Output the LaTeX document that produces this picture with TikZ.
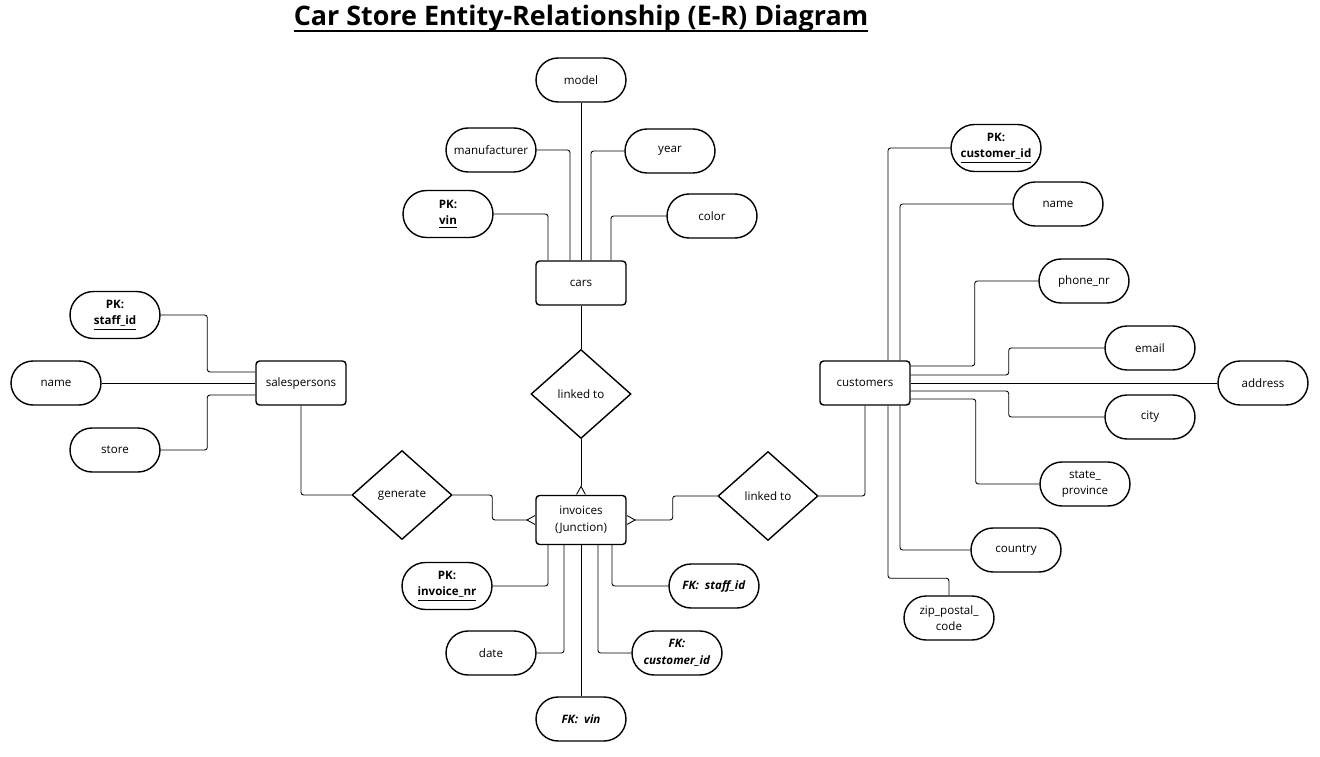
\documentclass[tikz,border=0pt]{standalone}
\usepackage{fontspec}
\setmainfont{Open Sans}
\usetikzlibrary{calc,shapes.geometric,arrows.meta}

\tikzset{
  txt/.style={font=\fontsize{6.6}{9.5}\selectfont},
  attr/.style={draw, line width=0.8pt, rounded corners=0.44cm, minimum width=1.8cm,
    minimum height=0.88cm, align=center, inner sep=1pt, txt},
  keyattr/.style={attr, minimum height=0.94cm, rounded corners=0.47cm},
  entity/.style={draw, line width=0.8pt, rounded corners=2pt, minimum width=1.8cm,
    minimum height=0.88cm, align=center, txt},
  relation/.style={draw, diamond, line width=0.8pt, minimum width=2cm,
    minimum height=1.78cm, inner sep=0pt, txt},
  link/.style={line width=0.5pt, rounded corners=1.5pt},
  many/.style={-{Straight Barb[reversed,length=4.5pt,width=5pt,sep=0pt]}}
}

\newcommand{\pk}[1]{\textbf{PK:}\\\textbf{\underline{#1}}}
\newcommand{\titleul}[1]{\sbox0{#1}\rlap{\rule[-3.6pt]{\wd0}{1.2pt}}\usebox0}

\begin{document}
\begin{tikzpicture}[x=0.02cm,y=-0.02cm]
\useasboundingbox (0,0) rectangle (1320,757);

% title
\node[font=\bfseries\fontsize{15.3}{18}\selectfont] (title) at (581,19)
  {\titleul{Car Store Entity-Relationship (E-R) Diagram}};

% entities
\node[entity] (cars) at (581,283) {cars};
\node[entity] (sales) at (301,383) {salespersons};
\node[entity] (cust) at (865,383) {customers};
\node[entity, minimum height=0.98cm] (inv) at (581,520) {invoices\\(Junction)};

% relationships
\node[relation] (rel1) at (581,394) {linked to};
\node[relation] (gen) at (402,495) {generate};
\node[relation] (rel2) at (768,496) {linked to};

% cars attributes
\node[attr] (model) at (581,80) {model};
\node[attr] (manuf) at (491,150) {manufacturer};
\node[attr] (year) at (670,151) {year};
\node[keyattr] (vin) at (448,214) {\pk{vin}};
\node[attr] (color) at (712,216) {color};

% salespersons attributes
\node[keyattr] (staff) at (115,315) {\pk{staff\_id}};
\node[attr] (sname) at (56,383) {name};
\node[attr] (store) at (115,450) {store};

% customers attributes
\node[keyattr] (custid) at (996,148) {\pk{customer\_id}};
\node[attr] (cname) at (1058,204) {name};
\node[attr] (phone) at (1084,281) {phone\_nr};
\node[attr] (email) at (1150,348) {email};
\node[attr] (address) at (1263,383) {address};
\node[attr] (city) at (1150,417) {city};
\node[attr] (state) at (1085,484) {state\_\\province};
\node[attr] (country) at (1016,550) {country};
\node[attr] (zip) at (949,618) {zip\_postal\_\\code};

% invoices attributes
\node[keyattr] (invnr) at (447,586) {\pk{invoice\_nr}};
\node[attr] (date) at (491,653) {date};
\node[attr] (fkvin) at (581,719) {\textbf{\textit{FK:~~vin}}};
\node[attr] (fkcust) at (677,653) {\textbf{\textit{FK:}}\\\textbf{\textit{customer\_id}}};
\node[attr] (fkstaff) at (714,586) {\textbf{\textit{FK:~~staff\_id}}};

% cars links
\draw[link] (vin.east) -| ($(cars.north)+(-33,0)$);
\draw[link] (manuf.east) -| ($(cars.north)+(-11,0)$);
\draw[link] (model.south) -- (cars.north);
\draw[link] (year.west) -| ($(cars.north)+(10,0)$);
\draw[link] (color.west) -| ($(cars.north)+(30,0)$);

% salespersons links
\draw[link] (staff.east) -| ($(sales.west)+(-48,-11)$) -- ($(sales.west)+(0,-11)$);
\draw[link] (sname.east) -- (sales.west);
\draw[link] (store.east) -| ($(sales.west)+(-48,12)$) -- ($(sales.west)+(0,12)$);

% customers links
\draw[link] (custid.west) -| ($(cust.north)+(23,0)$);
\draw[link] (cname.west) -| ($(cust.north)+(35,0)$);
\draw[link] (phone.west) -| ($(cust.east)+(64,-17)$) -- ($(cust.east)+(0,-17)$);
\draw[link] (email.west) -| ($(cust.east)+(98,-8)$) -- ($(cust.east)+(0,-8)$);
\draw[link] (address.west) -- (cust.east);
\draw[link] (city.west) -| ($(cust.east)+(98,8)$) -- ($(cust.east)+(0,8)$);
\draw[link] (state.west) -| ($(cust.east)+(65,16)$) -- ($(cust.east)+(0,16)$);
\draw[link] (country.west) -| ($(cust.south)+(35,0)$);
\draw[link] (zip.north) -- ++(0,-17) -| ($(cust.south)+(23,0)$);

% invoices links
\draw[link] (invnr.east) -| ($(inv.south)+(-33,0)$);
\draw[link] (date.east) -| ($(inv.south)+(-17,0)$);
\draw[link] (fkvin.north) -- (inv.south);
\draw[link] (fkcust.west) -| ($(inv.south)+(17,0)$);
\draw[link] (fkstaff.west) -| ($(inv.south)+(31,0)$);

% relationship links
\draw[link] (cars.south) -- (rel1.north);
\draw[link, many] (rel1.south) -- (inv.north);
\draw[link] (sales.south) |- (gen.west);
\draw[link, many] (gen.east) -| ($(inv.west)+(-43,0)$) -- (inv.west);
\draw[link, many] (rel2.west) -| ($(inv.east)+(46,0)$) -- (inv.east);
\draw[link] (rel2.east) -| (cust.south);
\end{tikzpicture}
\end{document}
